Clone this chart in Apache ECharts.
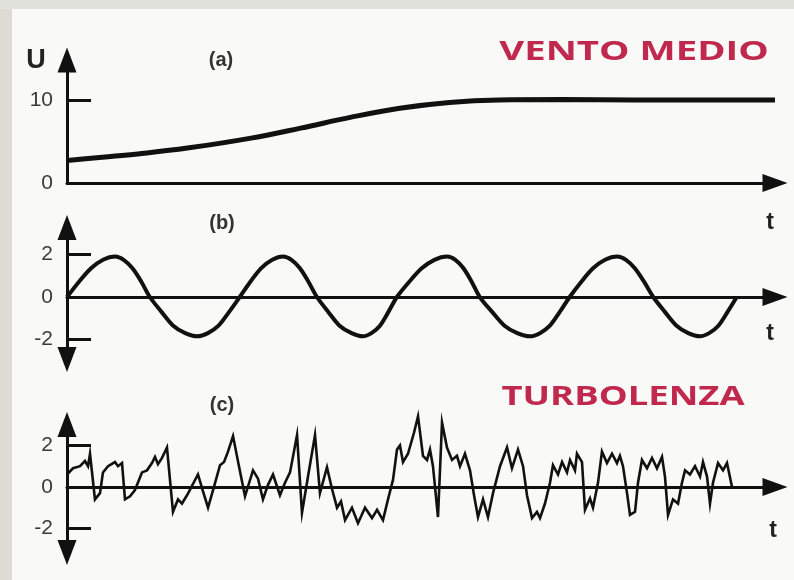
<!DOCTYPE html>
<html><head><meta charset="utf-8">
<script src="https://cdn.jsdelivr.net/npm/echarts@6/dist/echarts.min.js"></script>
<style>html,body{margin:0;padding:0;background:#f9f9f7}#c{width:794px;height:580px}</style>
</head><body><div id="c"></div>
<script>
// (a) mean wind  [t, U]
const meanWind = [[0,2.7],[5,3.1],[10,3.5],[17,4.2],[26,5.4],[33,6.6],[40,7.9],[47,9.0],[54,9.7],[61,10.0],[70,10.05],[80,10.0],[90,10.0],[100,10.0]];
// (b) periodic component [t, u]
const periodic = [[0,0],[1.7,0.72],[3.4,1.35],[5.1,1.75],[6.8,1.9],[8.0,1.75],[9.25,1.35],[10.5,0.72],[11.7,0],
[13.35,-0.7],[15.0,-1.35],[16.7,-1.7],[18.4,-1.85],[19.9,-1.7],[21.4,-1.35],[22.9,-0.7],[24.4,0],
[25.9,0.72],[27.4,1.35],[29.0,1.75],[30.5,1.9],[31.7,1.75],[32.9,1.35],[34.1,0.72],[35.3,0],
[36.9,-0.7],[38.5,-1.35],[40.2,-1.7],[41.8,-1.85],[43.0,-1.7],[44.2,-1.35],[45.4,-0.7],[46.6,0],
[48.35,0.72],[50.1,1.35],[51.9,1.75],[53.7,1.9],[54.85,1.75],[56.0,1.35],[57.15,0.72],[58.3,0],
[60.05,-0.7],[61.8,-1.35],[63.6,-1.7],[65.4,-1.85],[66.8,-1.7],[68.2,-1.35],[69.6,-0.7],[71.0,0],
[72.65,0.72],[74.3,1.35],[76.0,1.75],[77.7,1.9],[78.95,1.75],[80.2,1.35],[81.5,0.72],[82.8,0],
[84.45,-0.7],[86.1,-1.35],[87.75,-1.7],[89.4,-1.85],[90.7,-1.7],[92.0,-1.35],[93.3,-0.7],[94.6,0]];
// (c) turbulence [t, u]
const turbulence = [[0,0.6],[0.85,0.9],[1.84,1.0],[2.54,1.25],[2.97,1.0],[3.25,1.6],[3.95,-0.6],[4.66,-0.3],[5.08,0.7],[5.79,1.0],[6.78,1.2],[7.2,1.0],[7.77,1.15],[8.19,-0.6],[8.9,-0.45],[9.6,-0.15],[10.59,0.7],[11.3,0.8],[12.0,1.15],[12.43,1.45],[12.85,1.1],[13.42,1.4],[14.12,1.9],[14.97,-1.2],[15.68,-0.6],[16.24,-0.8],[16.95,-0.4],[18.5,0.6],[19.2,-0.2],[19.92,-1.0],[20.76,0.0],[21.61,1.05],[22.18,1.2],[22.74,1.7],[23.45,2.45],[24.29,1.0],[25.14,-0.45],[26.27,0.8],[26.98,0.4],[27.68,-0.6],[28.39,0.1],[29.1,0.6],[30.08,-0.4],[30.79,0.2],[31.5,0.7],[32.49,2.5],[33.19,-1.25],[34.04,0.5],[35.03,2.5],[35.73,-0.3],[36.72,0.95],[37.43,-0.1],[38.14,-1.0],[38.7,-0.7],[39.27,-1.6],[40.25,-1.0],[41.1,-1.75],[42.09,-1.0],[43.08,-1.5],[43.79,-1.1],[44.63,-1.6],[45.34,-0.6],[46.05,0.35],[46.61,1.8],[47.03,2.0],[47.46,1.2],[48.16,1.6],[49.0,2.6],[49.58,3.4],[50.28,1.5],[50.85,1.3],[51.27,1.8],[51.69,1.0],[52.4,-1.45],[52.97,3.1],[53.67,1.9],[54.38,1.3],[55.08,1.5],[55.51,1.0],[56.21,1.6],[56.92,0.8],[57.49,-0.4],[58.05,-1.45],[58.76,-0.6],[59.46,-1.45],[60.17,-0.3],[61.16,1.0],[62.15,1.9],[62.85,0.9],[63.7,1.8],[64.41,1.0],[64.97,-0.4],[65.68,-1.5],[66.38,-1.2],[66.81,-1.5],[67.51,-0.8],[68.22,0.2],[68.64,1.05],[69.35,0.6],[69.92,1.2],[70.62,0.7],[71.05,1.3],[71.75,0.8],[72.03,1.6],[72.74,1.2],[73.16,-1.1],[73.87,-0.55],[74.29,-1.0],[75.0,0.2],[75.56,1.7],[76.27,1.15],[76.98,1.6],[77.68,1.15],[78.1,1.5],[78.53,1.0],[79.1,-0.3],[79.52,-1.35],[80.23,-1.2],[80.65,0.2],[81.21,1.3],[81.92,0.9],[82.63,1.4],[83.33,0.9],[84.04,1.45],[84.46,0.5],[84.89,-1.35],[85.59,-0.6],[86.3,-0.8],[86.86,0.2],[87.29,0.8],[87.99,0.6],[88.7,1.0],[89.41,0.5],[89.83,1.2],[90.4,0.5],[90.82,-0.8],[91.24,0.2],[91.95,1.15],[92.66,0.8],[93.22,1.15],[93.93,0]];

const ticksA = [10];
const labelsA = [0, 10];
const ticksBC = [-2, 2];
const labelsBC = [-2, 0, 2];
const panelTitles = ['(a)', '(b)', '(c)'];
const headings = ['VENTO MEDIO', 'TURBOLENZA'];

const INK = '#111';
const chart = echarts.init(document.getElementById('c'));

function xAx(gi) {
  return {
    gridIndex: gi, type: 'value', min: 0, max: 100,
    axisLine: { show: true, onZero: true, symbol: ['none', 'triangle'], symbolSize: [18, 25], lineStyle: { color: INK, width: 3 } },
    axisTick: { show: false }, axisLabel: { show: false }, splitLine: { show: false }
  };
}
function yAx(gi, min, max, ticks, labels, sym) {
  return {
    gridIndex: gi, type: 'value', min: min, max: max,
    axisLine: { show: true, onZero: false, symbol: sym, symbolSize: [19, 25], lineStyle: { color: INK, width: 3 } },
    axisTick: { show: true, inside: true, length: 24, customValues: ticks, lineStyle: { color: INK, width: 3 } },
    axisLabel: { show: true, customValues: labels, margin: 14, fontSize: 21, color: '#3a3a3a', fontFamily: 'Liberation Sans' },
    splitLine: { show: false }
  };
}
const textFont = 'bold 20px "Liberation Sans"';
chart.setOption({
  animation: false,
  backgroundColor: '#f9f9f7',
  grid: [
    { left: 67, width: 708, top: 60, height: 123 },
    { left: 67, width: 708, top: 227.5, height: 132 },
    { left: 67, width: 708, top: 424.5, height: 128 }
  ],
  xAxis: [xAx(0), xAx(1), xAx(2)],
  yAxis: [
    yAx(0, 0, 14.8, ticksA, labelsA, ['none', 'triangle']),
    yAx(1, -2.94, 3.27, ticksBC, labelsBC, ['triangle', 'triangle']),
    yAx(2, -3.16, 3.01, ticksBC, labelsBC, ['triangle', 'triangle'])
  ],
  series: [
    { type: 'line', xAxisIndex: 0, yAxisIndex: 0, data: meanWind, smooth: 0.4, showSymbol: false, lineStyle: { color: INK, width: 5 }, clip: false },
    { type: 'line', xAxisIndex: 1, yAxisIndex: 1, data: periodic, smooth: 0.3, showSymbol: false, lineStyle: { color: INK, width: 4 }, clip: false },
    { type: 'line', xAxisIndex: 2, yAxisIndex: 2, data: turbulence, smooth: false, showSymbol: false, lineStyle: { color: INK, width: 2.6, join: 'miter' }, clip: false }
  ],
  graphic: [
    { type: 'rect', z: -10, shape: { x: 0, y: 0, width: 12, height: 580 }, style: { fill: '#dcdcd5' } },
    { type: 'rect', z: -10, shape: { x: 0, y: 0, width: 794, height: 9 }, style: { fill: '#e2e2dc' } },
    { type: 'text', x: 36, y: 61, style: { text: 'U', font: 'bold 27px "Liberation Sans"', fill: '#222', textAlign: 'center', textVerticalAlign: 'middle' } },
    { type: 'text', x: 221, y: 60, style: { text: panelTitles[0], font: textFont, fill: '#333', textAlign: 'center', textVerticalAlign: 'middle' } },
    { type: 'text', x: 222, y: 223, style: { text: panelTitles[1], font: textFont, fill: '#333', textAlign: 'center', textVerticalAlign: 'middle' } },
    { type: 'text', x: 222, y: 405, style: { text: panelTitles[2], font: textFont, fill: '#333', textAlign: 'center', textVerticalAlign: 'middle' } },
    { type: 'text', x: 634, y: 52, scaleX: 1.42, style: { text: headings[0], font: 'bold 27px "Open Sans"', fill: '#c0294d', textAlign: 'center', textVerticalAlign: 'middle' } },
    { type: 'text', x: 623, y: 397, scaleX: 1.35, style: { text: headings[1], font: 'bold 27px "Open Sans"', fill: '#c0294d', textAlign: 'center', textVerticalAlign: 'middle' } },
    { type: 'text', x: 770, y: 223, style: { text: 't', font: 'bold 23px "Liberation Sans"', fill: '#222', textAlign: 'center', textVerticalAlign: 'middle' } },
    { type: 'text', x: 770, y: 334, style: { text: 't', font: 'bold 23px "Liberation Sans"', fill: '#222', textAlign: 'center', textVerticalAlign: 'middle' } },
    { type: 'text', x: 773, y: 531, style: { text: 't', font: 'bold 23px "Liberation Sans"', fill: '#222', textAlign: 'center', textVerticalAlign: 'middle' } }
  ]
});
</script>
</body></html>
